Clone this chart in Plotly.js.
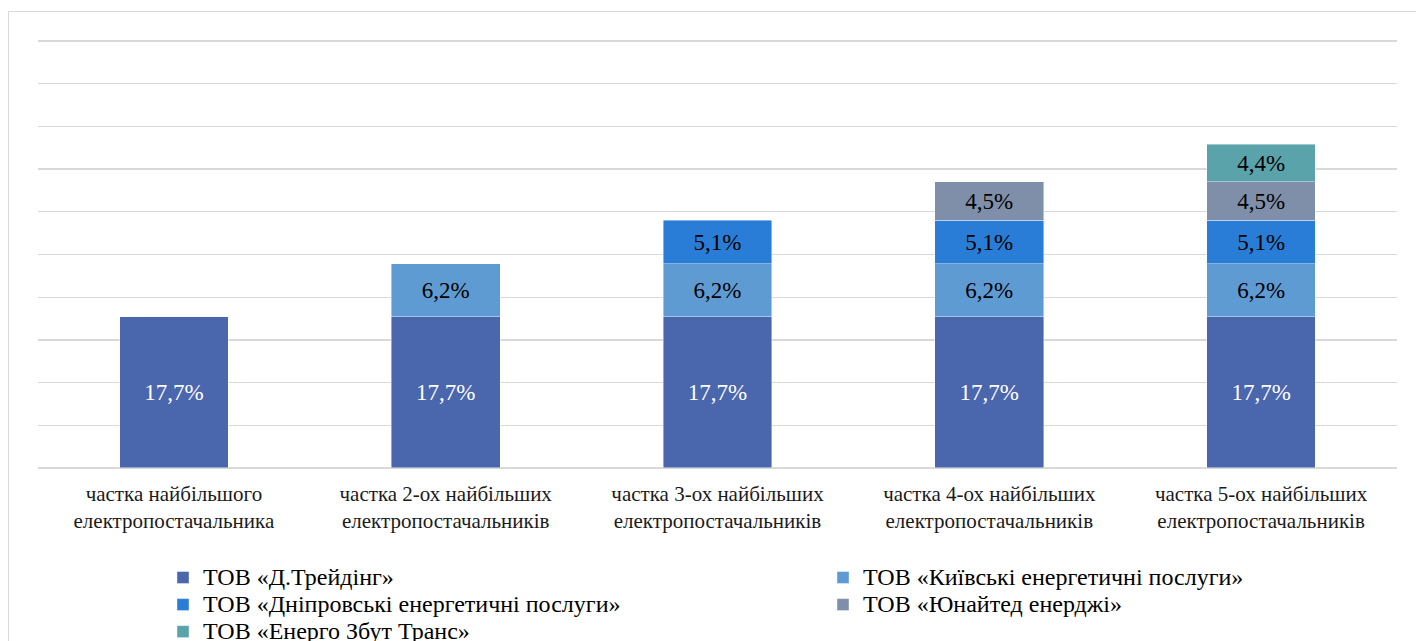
<!DOCTYPE html>
<html><head><meta charset="utf-8">
<script src="https://cdn.plot.ly/plotly-3.0.1.min.js"></script>
<style>
html,body{margin:0;padding:0;background:#fff;}
#wrap{position:relative;width:1416px;height:641px;overflow:hidden;}
#chart{position:absolute;left:0;top:0;width:1416px;height:641px;}
#frame{position:absolute;left:8px;top:11px;width:1420px;height:640px;border:1px solid #d9d9d9;pointer-events:none;}
</style></head>
<body><div id="wrap"><div id="chart"></div><div id="frame"></div></div>
<script>
const categories = [
  'частка найбільшого<br>електропостачальника',
  'частка 2-ох найбільших<br>електропостачальників',
  'частка 3-ох найбільших<br>електропостачальників',
  'частка 4-ох найбільших<br>електропостачальників',
  'частка 5-ох найбільших<br>електропостачальників'
];
const seriesNames = [
  'ТОВ «Д.Трейдінг»',
  'ТОВ «Київські енергетичні послуги»',
  'ТОВ «Дніпровські енергетичні послуги»',
  'ТОВ «Юнайтед енерджі»',
  'ТОВ «Енерго Збут Транс»'
];
const dTrading = [17.7, 17.7, 17.7, 17.7, 17.7];
const kyivEnergy = [null, 6.2, 6.2, 6.2, 6.2];
const dniproEnergy = [null, null, 5.1, 5.1, 5.1];
const unitedEnergy = [null, null, null, 4.5, 4.5];
const energoZbut = [null, null, null, null, 4.4];

const allSeries = [dTrading, kyivEnergy, dniproEnergy, unitedEnergy, energoZbut];
const colors = ['#4a66ac', '#5f9bd3', '#2a7dd6', '#7f8fa9', '#5aa3ab'];
const labelColors = ['#ffffff', '#000000', '#000000', '#000000', '#000000'];
const legendIds = ['legend', 'legend2', 'legend', 'legend2', 'legend'];
const FONT = 'Liberation Serif, Times New Roman, serif';

const fmt = v => v == null ? '' : v.toFixed(1).replace('.', ',') + '%';

const traces = allSeries.map((vals, i) => ({
  type: 'bar',
  name: '<span style="font-size:24px">' + seriesNames[i] + '</span>',
  x: categories,
  y: vals,
  text: vals.map(fmt),
  textposition: 'inside',
  insidetextanchor: 'middle',
  textangle: 0,
  textfont: {family: FONT, size: 23, color: labelColors[i]},
  marker: {color: colors[i], line: {color: 'rgba(255,255,255,0.6)', width: 0.7}},
  legend: legendIds[i],
  hoverinfo: 'skip'
}));

const legendBase = {
  xref: 'container', yref: 'container', y: 1 - 559/641,
  xanchor: 'left', yanchor: 'top', orientation: 'v', traceorder: 'normal',
  font: {family: FONT, size: 18.5, color: '#000000'}, tracegroupgap: 0,
  bgcolor: 'rgba(0,0,0,0)', borderwidth: 0
};

const layout = {
  width: 1416, height: 641,
  margin: {l: 38, r: 19, t: 40, b: 172, autoexpand: false},
  paper_bgcolor: '#ffffff', plot_bgcolor: '#ffffff',
  barmode: 'stack',
  bargap: 0.6,
  font: {family: FONT, color: '#000000'},
  xaxis: {
    tickfont: {family: FONT, size: 21, color: '#1a1a1a'},
    tickangle: 0, ticklabelstandoff: 10,
    showline: false, ticks: '', showgrid: false, zeroline: false,
    automargin: false
  },
  yaxis: {
    range: [-0.12, 50.12], tick0: 0, dtick: 5, showticklabels: false,
    gridcolor: '#d9d9d9', gridwidth: 1.3, zeroline: false, showline: false,
    ticks: '', automargin: false
  },
  showlegend: true,
  legend: Object.assign({}, legendBase, {x: 163/1416}),
  legend2: Object.assign({}, legendBase, {x: 823/1416})
};

Plotly.newPlot('chart', traces, layout, {displayModeBar: false, staticPlot: true});
</script>
</body></html>
